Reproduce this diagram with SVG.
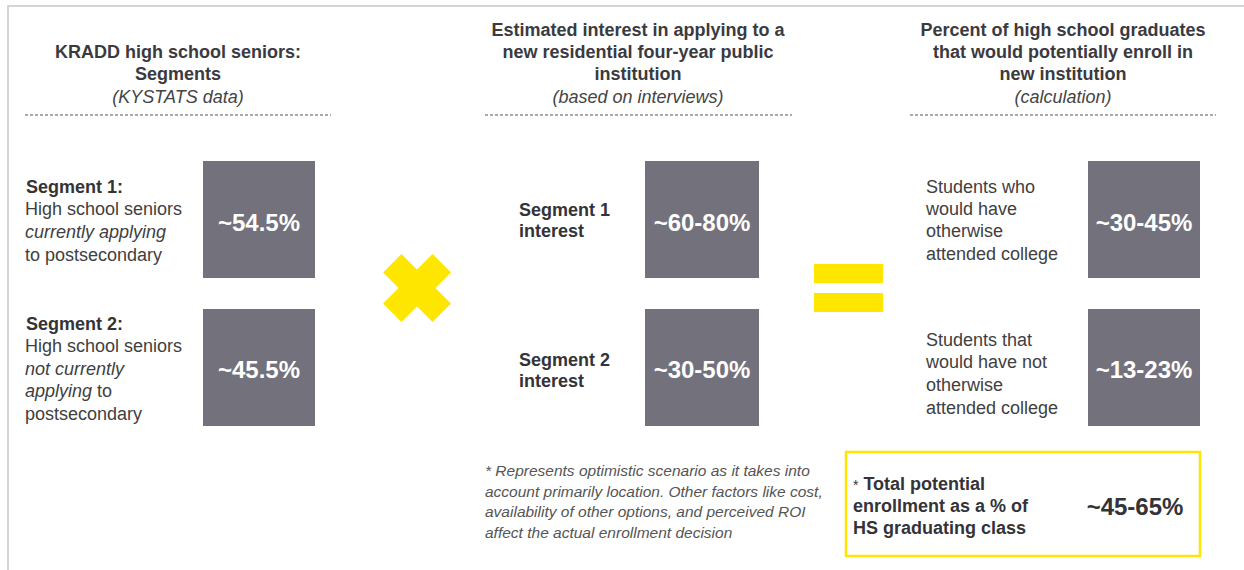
<svg xmlns="http://www.w3.org/2000/svg" width="1244" height="570" viewBox="0 0 1244 570">
<style>
text{font-family:"Liberation Sans",Arial,sans-serif;}
.h{font-size:18px;font-weight:bold;fill:#3a3a3f;text-anchor:middle;}
.hi{font-size:18px;font-style:italic;fill:#444;text-anchor:middle;}
.lb{font-size:18px;font-weight:bold;fill:#333338;}
.lr{font-size:18px;fill:#404040;}
.box{fill:#72717c;}
.val{font-size:24px;font-weight:bold;fill:#ffffff;text-anchor:middle;}
.dash{stroke:#555;stroke-width:1;stroke-dasharray:3 2;}
.yel{fill:#ffe600;}
.fn{font-size:15.5px;font-style:italic;fill:#555;}
</style>
<rect width="1244" height="570" fill="#ffffff"/>
<g id="frame" fill="none" stroke="#d4d4d8" stroke-width="2">
<path d="M1244 6 H8 V570"/>
</g>
<g id="header1">
<text class="h" x="178" y="58">KRADD high school seniors:</text>
<text class="h" x="178" y="80">Segments</text>
<text class="hi" x="178" y="103">(KYSTATS data)</text>
<line class="dash" x1="25" y1="115" x2="331" y2="115"/>
</g>
<g id="header2">
<text class="h" x="638" y="36">Estimated interest in applying to a</text>
<text class="h" x="638" y="58">new residential four-year public</text>
<text class="h" x="638" y="80">institution</text>
<text class="hi" x="638" y="103">(based on interviews)</text>
<line class="dash" x1="485" y1="115" x2="792" y2="115"/>
</g>
<g id="header3">
<text class="h" x="1063" y="36">Percent of high school graduates</text>
<text class="h" x="1063" y="58">that would potentially enroll in</text>
<text class="h" x="1063" y="80">new institution</text>
<text class="hi" x="1063" y="103">(calculation)</text>
<line class="dash" x1="910" y1="115" x2="1216" y2="115"/>
</g>
<g id="seg1">
<text class="lb" x="26" y="193">Segment 1:</text>
<text class="lr" x="25" y="215">High school seniors</text>
<text class="lr" x="25" y="238" font-style="italic">currently applying</text>
<text class="lr" x="25" y="261">to postsecondary</text>
<rect class="box" x="203" y="161" width="112" height="117"/>
<text class="val" x="259" y="231">~54.5%</text>
</g>
<g id="seg2">
<text class="lb" x="26" y="330">Segment 2:</text>
<text class="lr" x="25" y="352">High school seniors</text>
<text class="lr" x="25" y="375" font-style="italic">not currently</text>
<text class="lr" x="25" y="397"><tspan font-style="italic">applying</tspan> to</text>
<text class="lr" x="25" y="420">postsecondary</text>
<rect class="box" x="203" y="309" width="112" height="117"/>
<text class="val" x="259" y="378">~45.5%</text>
</g>
<g id="times">
<g class="yel" transform="translate(417,288) rotate(45)">
<rect x="-35" y="-13" width="70" height="26"/>
<rect x="-13" y="-35" width="26" height="70"/>
</g>
</g>
<g id="int1">
<text class="lb" x="519" y="216">Segment 1</text>
<text class="lb" x="519" y="237">interest</text>
<rect class="box" x="645" y="161" width="114" height="117"/>
<text class="val" x="702" y="231">~60-80%</text>
</g>
<g id="int2">
<text class="lb" x="519" y="366">Segment 2</text>
<text class="lb" x="519" y="387">interest</text>
<rect class="box" x="645" y="309" width="114" height="117"/>
<text class="val" x="702" y="378">~30-50%</text>
</g>
<g id="equals">
<rect class="yel" x="814" y="264" width="69" height="19"/>
<rect class="yel" x="814" y="293" width="69" height="19"/>
</g>
<g id="res1">
<text class="lr" x="926" y="193">Students who</text>
<text class="lr" x="926" y="215">would have</text>
<text class="lr" x="926" y="237">otherwise</text>
<text class="lr" x="926" y="260">attended college</text>
<rect class="box" x="1088" y="161" width="112" height="117"/>
<text class="val" x="1144" y="231">~30-45%</text>
</g>
<g id="res2">
<text class="lr" x="926" y="346">Students that</text>
<text class="lr" x="926" y="368">would have not</text>
<text class="lr" x="926" y="391">otherwise</text>
<text class="lr" x="926" y="414">attended college</text>
<rect class="box" x="1088" y="309" width="112" height="117"/>
<text class="val" x="1144" y="378">~13-23%</text>
</g>
<g id="footnote">
<text class="fn" x="485" y="476">* Represents optimistic scenario as it takes into</text>
<text class="fn" x="485" y="497">account primarily location. Other factors like cost,</text>
<text class="fn" x="485" y="517">availability of other options, and perceived ROI</text>
<text class="fn" x="485" y="538">affect the actual enrollment decision</text>
</g>
<g id="total">
<rect x="846" y="452" width="354" height="104" fill="none" stroke="#ffe600" stroke-width="2.5"/>
<text class="lb" x="853" y="490"><tspan font-weight="normal" font-size="14px">*</tspan> Total potential</text>
<text class="lb" x="853" y="512">enrollment as a % of</text>
<text class="lb" x="853" y="534">HS graduating class</text>
<text class="val" x="1135" y="515" style="fill:#333338">~45-65%</text>
</g>
</svg>
